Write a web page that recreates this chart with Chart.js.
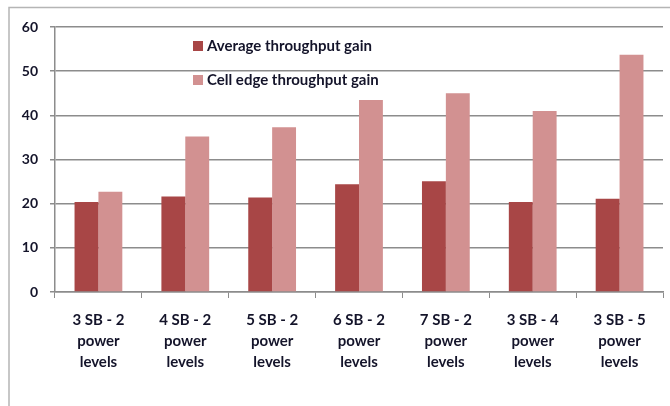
<!DOCTYPE html>
<html>
<head>
<meta charset="utf-8">
<style>
  html, body { margin: 0; padding: 0; background: #fff; }
  .chart-container { position: relative; width: 670px; height: 406px; }
</style>
</head>
<body>
<div class="chart-container">
    <canvas id="gainChart" width="670" height="406"></canvas>
</div>

<script src="https://cdn.jsdelivr.net/npm/chart.js"></script>
<script>
// Data
const categories = [
    ['3 SB - 2', 'power', 'levels'],
    ['4 SB - 2', 'power', 'levels'],
    ['5 SB - 2', 'power', 'levels'],
    ['6 SB - 2', 'power', 'levels'],
    ['7 SB - 2', 'power', 'levels'],
    ['3 SB - 4', 'power', 'levels'],
    ['3 SB - 5', 'power', 'levels']
];
const averageGain = [20.4, 21.6, 21.4, 24.4, 25.1, 20.4, 21.1];
const cellEdgeGain = [22.7, 35.2, 37.3, 43.5, 45.0, 41.0, 53.7];
const yTicks = [0, 10, 20, 30, 40, 50, 60];

const textColor = '#14142a';
const fontFamily = 'Lato, "Open Sans", sans-serif';

// Frame around the chart, like the original slide
const framePlugin = {
    id: 'frame',
    beforeDraw(chart) {
        const c = chart.ctx;
        c.save();
        c.strokeStyle = '#b5b5b5';
        c.lineWidth = 1.5;
        c.beginPath();
        c.moveTo(9, 406);
        c.lineTo(9, 7.5);
        c.lineTo(670, 7.5);
        c.stroke();
        c.restore();
    }
};

// Legend drawn inside the plot area
const innerLegend = {
    id: 'innerLegend',
    afterDraw(chart) {
        const c = chart.ctx;
        const area = chart.chartArea;
        c.save();
        c.font = 'bold 15px ' + fontFamily;
        c.textBaseline = 'middle';
        chart.data.datasets.forEach((ds, i) => {
            const x = area.left + 138;
            const y = area.top + 19 + i * 34;
            c.fillStyle = ds.backgroundColor;
            c.fillRect(x, y - 5, 10, 10);
            c.fillStyle = textColor;
            c.fillText(ds.label, x + 14, y);
        });
        c.restore();
    }
};

const ctx = document.getElementById('gainChart').getContext('2d');
const chart = new Chart(ctx, {
    type: 'bar',
    data: {
        labels: categories,
        datasets: [
            {
                label: 'Average throughput gain',
                data: averageGain,
                backgroundColor: '#a84646'
            },
            {
                label: 'Cell edge throughput gain',
                data: cellEdgeGain,
                backgroundColor: '#d29191'
            }
        ]
    },
    options: {
        responsive: false,
        animation: false,
        layout: {
            padding: { left: 0, top: 27, right: 7, bottom: 0 }
        },
        datasets: {
            bar: {
                categoryPercentage: 0.55,
                barPercentage: 1.0
            }
        },
        plugins: {
            legend: { display: false },
            tooltip: { enabled: false }
        },
        scales: {
            x: {
                afterFit(scale) { scale.height = 114; },
                grid: {
                    offset: true,
                    drawOnChartArea: false,
                    color: '#8c8c8c',
                    tickLength: 6
                },
                border: { color: '#8c8c8c', width: 1.5 },
                ticks: {
                    color: textColor,
                    padding: 12,
                    font: { family: fontFamily, size: 15, weight: 'bold', lineHeight: 1.4 }
                }
            },
            y: {
                min: 0,
                max: 60,
                afterFit(scale) { scale.width = 55; },
                afterBuildTicks(scale) {
                    scale.ticks = yTicks.map(v => ({ value: v }));
                },
                grid: {
                    color: '#8c8c8c',
                    lineWidth: 1.5,
                    tickLength: 5
                },
                border: { color: '#8c8c8c', width: 1.5 },
                ticks: {
                    color: textColor,
                    padding: 12,
                    font: { family: fontFamily, size: 14, weight: 'bold' }
                }
            }
        }
    },
    plugins: [framePlugin, innerLegend]
});
</script>
</body>
</html>
